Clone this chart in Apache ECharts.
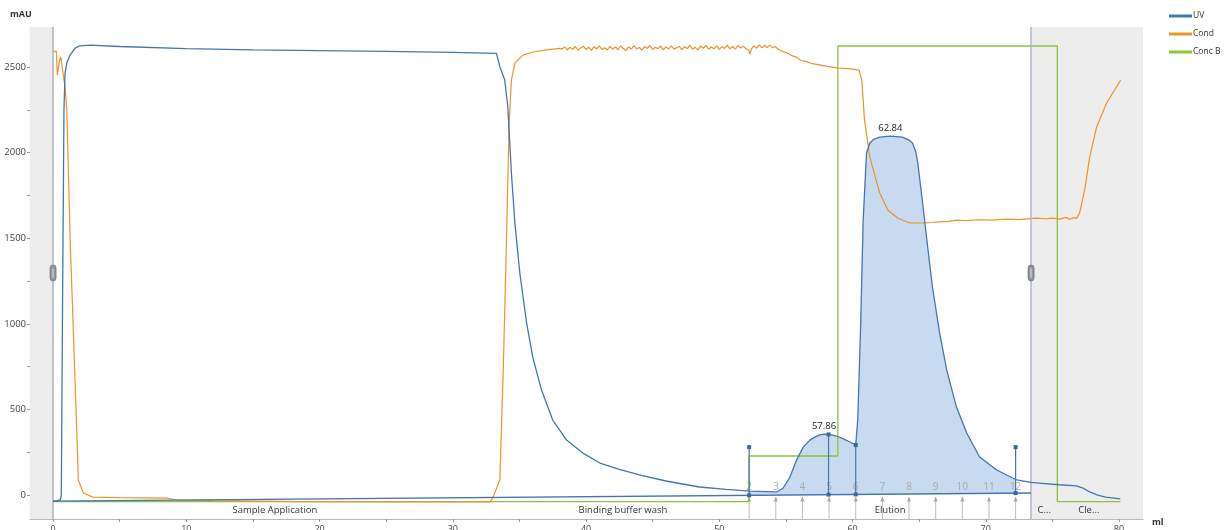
<!DOCTYPE html>
<html><head><meta charset="utf-8">
<script src="https://cdn.jsdelivr.net/npm/echarts@6/dist/echarts.min.js"></script>
<style>html,body{margin:0;padding:0;background:#fff}#c{width:1231px;height:530px}</style>
</head><body><div id="c"></div>
<script>
// ---------- DATA ----------
const uv = [[0,-35],[0.3,-33],[0.55,-28],[0.62,0],[0.72,1200],[0.82,2250],[0.9,2465],[1.03,2523],[1.28,2570],[1.65,2611],[2.0,2624],[2.78,2628],[5,2620],[10,2608],[15,2600],[20,2596],[25,2592],[30,2586],[33.28,2580],[33.53,2502],[33.9,2424],[34.13,2268],[34.4,1880],[34.66,1589],[35.03,1297],[35.54,1005],[36.0,806],[36.66,613],[37.5,438],[38.54,321],[39.76,245],[41.04,187],[42.5,150],[44,118],[46,82],[48.5,47],[50.5,33],[52.3,23],[54.3,18],[54.8,41],[55.3,105],[55.8,204],[56.3,280],[56.8,321],[57.2,340],[57.5,350],[57.86,356],[58.2,354],[58.6,348],[59.0,339],[59.4,325],[59.8,310],[60.24,292],[60.39,438],[60.6,964],[60.8,1606],[61.05,1998],[61.3,2056],[61.6,2078],[62.04,2091],[62.84,2097],[63.74,2091],[64.2,2075],[64.5,2056],[64.75,2005],[64.9,1939],[65.26,1706],[65.64,1449],[66.0,1215],[66.54,946],[67.07,730],[67.8,514],[68.57,362],[69.54,222],[70.82,146],[72.32,88],[73.4,74],[74.0,70],[75.5,60],[76.8,53],[77.3,40],[77.8,18],[78.4,0],[79.0,-12],[80.1,-23]];
const uvBaseline = [[0,-35],[73.4,12]];
const cond = [[0,2590],[0.25,2592],[0.32,2453],[0.47,2531],[0.58,2560],[0.68,2502],[0.9,2385],[1.03,2250],[1.28,1500],[1.65,672],[1.9,88],[2.27,12],[3.0,-12],[5,-15],[8.55,-18],[9.3,-29],[12,-33],[18.5,-39],[25,-40],[32.8,-40],[33.0,-18],[33.53,88],[33.78,712],[34.03,1490],[34.23,2173],[34.4,2424],[34.66,2523],[35.26,2570],[36,2588],[37.04,2600],[38.03,2609],
[38.2,2606],[38.4,2618],[38.6,2601],[38.8,2615],[39.0,2604],[39.2,2620],[39.4,2599],[39.6,2612],[39.8,2622],[40.0,2603],[40.2,2616],[40.4,2598],[40.6,2619],[40.8,2607],[41.0,2624],[41.2,2602],[41.4,2613],[41.6,2600],[41.8,2621],[42.0,2605],[42.2,2617],[42.4,2601],[42.6,2623],[42.8,2608],[43.0,2596],[43.2,2618],[43.4,2604],[43.6,2625],[43.8,2606],[44.0,2614],[44.2,2600],[44.4,2620],[44.6,2609],[44.8,2626],[45.0,2603],[45.2,2616],[45.4,2607],[45.6,2622],[45.8,2601],[46.0,2618],[46.2,2606],[46.4,2624],[46.6,2604],[46.8,2613],[47.0,2621],[47.2,2602],[47.4,2619],[47.6,2608],[47.8,2626],[48.0,2605],[48.2,2615],[48.4,2600],[48.6,2622],[48.8,2610],[49.0,2627],[49.2,2604],[49.4,2617],[49.6,2607],[49.8,2624],[50.0,2603],[50.2,2619],[50.4,2609],[50.6,2628],[50.8,2606],[51.0,2620],[51.2,2605],[51.4,2626],[51.6,2611],[51.8,2622],[52.0,2607],[52.2,2598],[52.3,2576],[52.4,2605],[52.6,2624],[52.8,2610],[53.0,2629],[53.2,2612],[53.4,2627],[53.6,2614],[53.8,2628],[54.0,2612],[54.2,2620],
[54.5,2600],[54.8,2590],[55.1,2582],[55.5,2565],[55.8,2558],[56.1,2540],[56.5,2532],[56.9,2522],[57.3,2516],[57.7,2510],[58.1,2504],[58.5,2500],[59.0,2494],[59.5,2492],[60.0,2488],[60.5,2482],[60.7,2420],[60.9,2190],[61.3,1974],[62.04,1764],[62.64,1665],[63.39,1618],
[64.3,1589],[65.27,1589],[66.0,1592],[66.5,1596],[67.2,1599],[67.82,1606],[68.5,1603],[69.5,1608],[70.5,1606],[71.57,1612],[72.5,1609],[73.82,1618],[74.5,1614],[75,1618],[75.6,1612],[76.0,1622],[76.3,1612],[76.6,1620],[76.82,1616],[77.04,1647],[77.42,1781],[77.8,1974],[78.32,2150],[79.07,2290],[80.12,2424]];
const concB = [[0,-38],[52.24,-38],[52.24,228],[58.9,228],[58.9,2623],[75.37,2623],[75.37,-38],[80.1,-38]];

const fractionLabels = ['2','3','4','5','6','7','8','9','10','11','12'];
const fractionPositions = [52.24,54.24,56.24,58.24,60.24,62.24,64.24,66.24,68.24,70.24,72.24];
const peakLabels = ['57.86','62.84'];
const peakPositions = [57.86,62.84];
const peakMarkX = [52.24,58.2,60.24,72.24];
const peakMarkTop = [280,354,292,280];
const peakFillRange = [52.24,72.24];
const phaseNames = ['Sample Application','Binding buffer wash','Elution','C...','Cle...'];
const phaseBounds = [0,33.3,52.24,73.4,75.37,80.1];
const runStart = 0, runEnd = 73.4;
const yTicks = [0,500,1000,1500,2000,2500];
const yMinorTicks = [0,250,500,750,1000,1250,1500,1750,2000,2250,2500];
const xTicks = [0,10,20,30,40,50,60,70,80];
const xMinorTicks = [0,5,10,15,20,25,30,35,40,45,50,55,60,65,70,75,80];

// ---------- helpers ----------
const X_MIN=-1.73, X_MAX=81.8, Y_MIN=-140, Y_MAX=2734;
function interp(arr,x){
  for(let i=0;i<arr.length-1;i++){
    const a=arr[i],b=arr[i+1];
    if(x>=a[0]&&x<=b[0]){ if(b[0]===a[0]) return a[1]; return a[1]+(b[1]-a[1])*(x-a[0])/(b[0]-a[0]); }
  }
  return arr[arr.length-1][1];
}
const base = x => interp(uvBaseline,x);
const FONT = "'Open Sans', 'Noto Sans', sans-serif";
const UVC='#4675b2', CONDC='#ec9427', CONCC='#8cc33f';

const chart = echarts.init(document.getElementById('c'), null, {renderer:'canvas'});
const option = {
  animation:false,
  textStyle:{fontFamily:FONT},
  grid:{left:30,right:88,top:27,bottom:11,containLabel:false,outerBoundsMode:'none'},
  legend:{data:['UV','Cond','Conc B'],orient:'vertical',left:1169,top:10,itemWidth:23,itemHeight:3,itemGap:6,icon:'rect',padding:[0,0,0,0],
    textStyle:{fontSize:8.5,color:'#333',fontFamily:FONT,lineHeight:12,height:12,padding:[0,0,0,-4]}},
  xAxis:{type:'value',min:X_MIN,max:X_MAX,splitLine:{show:false},
    axisLine:{show:true,onZero:false,lineStyle:{color:'#b8b8b8',width:1.2}},
    axisTick:{show:true,customValues:xMinorTicks,length:3,lineStyle:{color:'#999'}},
    axisLabel:{customValues:xTicks,fontSize:9,color:'#444',margin:6,formatter:v=>String(v)}},
  yAxis:{type:'value',min:Y_MIN,max:Y_MAX,splitLine:{show:false},
    axisLine:{show:true,onZero:false,lineStyle:{color:'#b8b8b8',width:1.2}},
    axisTick:{show:true,customValues:yMinorTicks,length:3,lineStyle:{color:'#999'}},
    axisLabel:{customValues:yTicks,fontSize:9.5,color:'#444',margin:4,formatter:v=>String(v)}},
  graphic:[
    {type:'text',left:10,top:10,style:{text:'mAU',fontSize:9,fontWeight:'bold',fill:'#333',fontFamily:FONT}},
    {type:'text',left:1152,top:518,style:{text:'ml',fontSize:9,fontWeight:'bold',fill:'#333',fontFamily:FONT}}
  ],
  series:[
    {name:'bg',type:'line',data:[],silent:true,z:0,
      markArea:{silent:true,itemStyle:{color:'#ededed'},data:[[{xAxis:X_MIN},{xAxis:runStart}],[{xAxis:runEnd},{xAxis:X_MAX}]]},
      markLine:{silent:true,symbol:'none',label:{show:false},
        data:[{xAxis:runStart,lineStyle:{color:'#aeb0b6',width:1.5,type:'solid'}},{xAxis:runEnd,lineStyle:{color:'#b6b6cc',width:1.5,type:'solid'}}]}},
    {name:'peakFill',type:'custom',z:1,silent:true,clip:true,data:[[peakFillRange[0],0]],
      renderItem:function(params,api){
        const pts=[];
        const a=peakFillRange[0], b=peakFillRange[1];
        pts.push(api.coord([a,base(a)]));
        pts.push(api.coord([a,interp(uv,a)]));
        uv.forEach(p=>{ if(p[0]>a&&p[0]<b) pts.push(api.coord(p)); });
        pts.push(api.coord([b,interp(uv,b)]));
        pts.push(api.coord([b,base(b)]));
        return {type:'polygon',shape:{points:pts},style:{fill:'#c8daef',stroke:null}};
      }},
    {name:'fractions',type:'custom',z:2,silent:true,clip:false,data:fractionPositions.map((x,i)=>[x,i]),
      renderItem:function(params,api){
        const x=api.value(0), i=api.value(1);
        const top=api.coord([x,-8]), bot=api.coord([x,Y_MIN]), lab=api.coord([x,47]);
        return {type:'group',children:[
          {type:'line',shape:{x1:top[0],y1:top[1]+1,x2:bot[0],y2:bot[1]},style:{stroke:'#bdbdbd',lineWidth:1}},
          {type:'polygon',shape:{points:[[top[0]-2,top[1]+5],[top[0],top[1]],[top[0]+2,top[1]+5]]},style:{fill:'#a8a8a8'}},
          {type:'text',style:{text:fractionLabels[i],x:lab[0],y:lab[1],align:'center',verticalAlign:'middle',fontSize:10,fill:'#a9a9a9',fontFamily:FONT}}
        ]};
      }},
    {name:'phases',type:'custom',z:2,silent:true,clip:false,data:phaseNames.map((n,i)=>[(phaseBounds[i]+phaseBounds[i+1])/2,i]),
      renderItem:function(params,api){
        const p=api.coord([api.value(0),-88]);
        return {type:'text',style:{text:phaseNames[api.value(1)],x:p[0],y:p[1],align:'center',verticalAlign:'middle',fontSize:9.5,fill:'#333',fontFamily:FONT}};
      }},
    {name:'Conc B',type:'line',data:concB,showSymbol:false,z:3,color:CONCC,lineStyle:{width:1.3,color:CONCC}},
    {name:'Cond',type:'line',data:cond,showSymbol:false,z:4,color:CONDC,lineStyle:{width:1.2,color:CONDC}},
    {name:'baseline',type:'line',data:uvBaseline,showSymbol:false,z:5,lineStyle:{width:1.3,color:UVC},silent:true},
    {name:'UV',type:'line',data:uv,showSymbol:false,z:6,color:UVC,lineStyle:{width:1.3,color:UVC}},
    {name:'peakMarks',type:'custom',z:7,silent:true,clip:false,data:peakMarkX.map((x,i)=>[x,peakMarkTop[i]]),
      renderItem:function(params,api){
        const x=api.value(0), t=api.value(1);
        const top=api.coord([x,t]), bot=api.coord([x,base(x)]);
        return {type:'group',children:[
          {type:'line',shape:{x1:top[0],y1:top[1],x2:bot[0],y2:bot[1]},style:{stroke:UVC,lineWidth:1.2}},
          {type:'rect',shape:{x:top[0]-2,y:top[1]-2,width:4,height:4},style:{fill:'#3d67a3'}},
          {type:'rect',shape:{x:bot[0]-2,y:bot[1]-2,width:4,height:4},style:{fill:'#3d67a3'}}
        ]};
      }},
    {name:'peakLabels',type:'custom',z:8,silent:true,clip:false,data:peakPositions.map((x,i)=>[x,i]),
      renderItem:function(params,api){
        const x=api.value(0);
        const p=api.coord([x,interp(uv,x)]);
        return {type:'text',style:{text:peakLabels[api.value(1)],x:p[0],y:p[1]-3,align:'center',verticalAlign:'bottom',fontSize:9.5,fill:'#222',fontFamily:FONT}};
      }},
    {name:'handles',type:'custom',z:9,silent:true,clip:false,data:[[runStart,1297],[runEnd,1297]],
      renderItem:function(params,api){
        const p=api.coord([api.value(0),api.value(1)]);
        return {type:'group',children:[
          {type:'rect',shape:{x:p[0]-3,y:p[1]-8,width:6,height:16,r:3},style:{fill:'#8e949c',stroke:'#737982',lineWidth:0.8}},
          {type:'rect',shape:{x:p[0]-1,y:p[1]-5,width:2,height:10,r:1},style:{fill:'#b9bec4'}}
        ]};
      }}
  ]
};
chart.setOption(option);
</script></body></html>
